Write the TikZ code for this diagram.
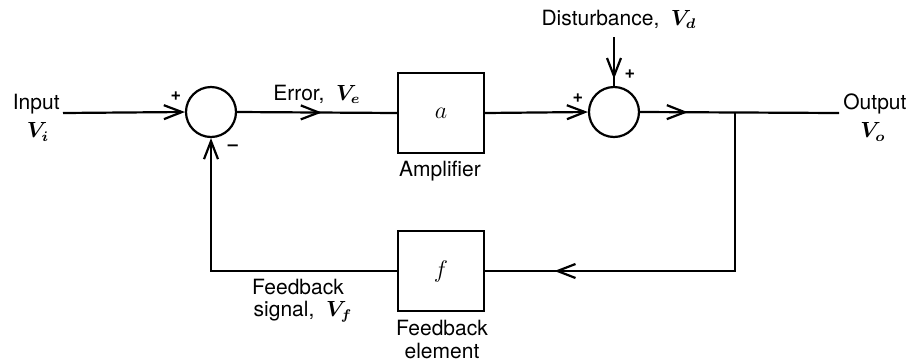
\documentclass[tikz,border=0pt]{standalone}
\usepackage{fontspec}
\setmainfont{TeX Gyre Heros}
\usepackage{bm}
\usetikzlibrary{arrows.meta,decorations.markings}
\newcommand{\bv}[1]{$\bm{V}_{\bm{#1}}$}
\tikzset{
  barb/.tip={Straight Barb[length=9pt,width=7pt,line width=1.1pt]},
  wire/.style={line width=1.1pt},
  sumnode/.style={circle,draw,line width=1.1pt,minimum size=25pt,inner sep=0pt},
  blockbox/.style={rectangle,draw,line width=1.1pt,minimum width=43pt,minimum height=40pt,inner sep=0pt},
  lbl/.style={inner sep=0pt,font=\fontsize{10.5}{12.5}\selectfont},
  sgn/.style={inner sep=0pt,font=\fontsize{9}{10}\selectfont\bfseries},
  midarrow/.style={postaction=decorate,decoration={markings,mark=at position #1 with {\arrow{barb}}}}
}
\begin{document}
\begin{tikzpicture}[x=0.5pt,y=-0.5pt]
\useasboundingbox (0,0) rectangle (912,360);
% nodes
\node[sumnode] (s1) at (211,112) {};
\node[sumnode] (s2) at (614,112) {};
\node[blockbox] (amp) at (441,113) {\fontsize{13}{15}\selectfont$a$};
\node[blockbox] (fb) at (441,271) {\fontsize{13}{15}\selectfont$f$};
\coordinate (in) at (63,113);
\coordinate (out) at (839,113);
\coordinate (junc) at (735,113);
\coordinate (dist) at (614,37);
% connectors
\draw[wire,-barb] (in) -- (s1.west);
\draw[wire,midarrow=0.53] (s1.east) -- (amp.west);
\draw[wire,-barb] (amp.east) -- (s2.west);
\draw[wire,midarrow=0.86] (dist) -- (s2.north);
\draw[wire,midarrow=0.24] (s2.east) -- (out);
\draw[wire,midarrow=0.83] (junc) |- (fb.east);
\draw[wire,-barb] (fb.west) -| (s1.south);
% labels
\node[lbl,anchor=east] (linput) at (60,104) {Input};
\node[lbl] (lvi) at (38,132) {\bv{i}};
\node[lbl,anchor=west] (lerr) at (273,94) {Error,~ \bv{e}};
\node[lbl] (lamp) at (440,171) {Amplifier};
\node[lbl] (ldist) at (619,19) {Disturbance,~ \bv{d}};
\node[lbl,anchor=west] (lout) at (843,104) {Output};
\node[lbl] (lvo) at (873,132) {\bv{o}};
\node[lbl] (lfs1) at (298,287) {Feedback};
\node[lbl] (lfs2) at (303,312) {signal,~ \bv{f}};
\node[lbl] (lfe1) at (442,328) {Feedback};
\node[lbl] (lfe2) at (442,351) {element};
\node[sgn] (p1) at (176,96) {+};
\node[sgn] (m1) at (233,148) {--};
\node[sgn] (p2) at (578,98) {+};
\node[sgn] (p3) at (630,74) {+};
\end{tikzpicture}
\end{document}
